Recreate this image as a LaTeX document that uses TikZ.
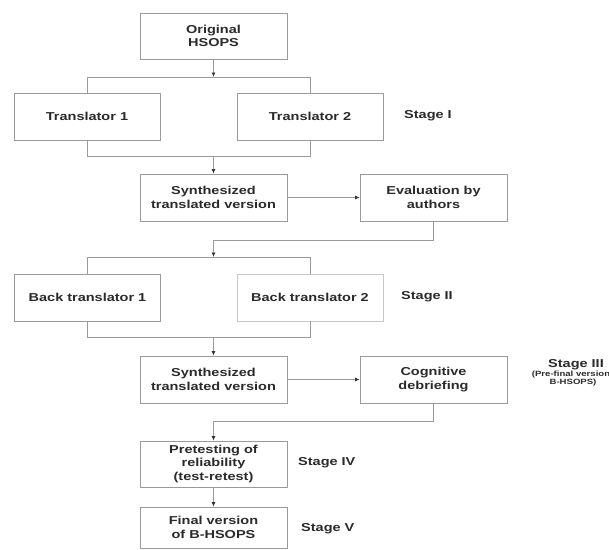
\documentclass[tikz,border=0pt]{standalone}
\usepackage{fontspec}
\setmainfont{Liberation Sans}[FakeStretch=1.26]
\usetikzlibrary{arrows.meta}
\definecolor{linegray}{HTML}{9A9A9A}
\definecolor{lightline}{HTML}{C8C8C8}
\definecolor{textdark}{HTML}{2A2A2A}
\definecolor{arrowdark}{HTML}{333333}
\newcommand{\bxfont}{\fontsize{11.5}{13.4}\selectfont\bfseries}
\newcommand{\smfont}{\fontsize{7.6}{8.6}\selectfont\bfseries}
\begin{document}
\begin{tikzpicture}[x=1pt,y=-1pt,
  box/.style={draw=linegray, line width=0.8pt, minimum width=147pt, minimum height=47pt,
    inner sep=0pt, align=center, font=\bxfont, text=textdark},
  conn/.style={draw=linegray, line width=0.8pt},
  arr/.style={conn, -{Latex[length=4.5pt,width=4pt,color=arrowdark]}},
  stagelbl/.style={font=\bxfont, text=textdark, anchor=west, inner sep=0pt},
  smalllbl/.style={font=\smfont, text=textdark, inner sep=0pt}]
\useasboundingbox (0,0) rectangle (609,549);

% boxes
\node[box, minimum height=46pt] (orig) at (213.5,36) {Original\\HSOPS};
\node[box, minimum width=146pt] (t1) at (87,116.5) {Translator 1};
\node[box, minimum width=146pt] (t2) at (310,116.5) {Translator 2};
\node[box] (s1) at (213.5,197.5) {Synthesized\\translated version};
\node[box] (ev) at (433.5,197.5) {Evaluation by\\authors};
\node[box, minimum width=146pt] (bt1) at (87.5,297.5) {Back translator 1};
\node[box, minimum width=146pt, draw=lightline] (bt2) at (310,297.5) {Back translator 2};
\node[box] (s2) at (213.5,379.5) {Synthesized\\translated version};
\node[box] (cg) at (433.5,379.5) {Cognitive\\debriefing};
\node[box, minimum height=46pt] (pt) at (213.5,464) {Pretesting of\\reliability\\(test-retest)};
\node[box, minimum height=41pt] (fv) at (213.5,527.5) {Final version\\of B-HSOPS};

% stage labels
\node[stagelbl] (st1) at (404,116) {Stage I};
\node[stagelbl] (st2) at (401,297) {Stage II};
\node[font=\bxfont, text=textdark, inner sep=0pt] (st3) at (576,365) {Stage III};
\node[smalllbl] (st3a) at (571,374.5) {(Pre-final version};
\node[smalllbl] (st3b) at (573,383) {B-HSOPS)};
\node[stagelbl] (st4) at (298,463) {Stage IV};
\node[stagelbl] (st5) at (301,529) {Stage V};

% coordinates for brackets
\coordinate (b1m) at (213.5,77);
\coordinate (b1l) at (87,77);
\coordinate (b1r) at (310,77);
\coordinate (b2l) at (87,156);
\coordinate (b2r) at (310,156);
\coordinate (b2m) at (213.5,156);
\coordinate (c1a) at (433.5,240);
\coordinate (c1b) at (213.5,240);
\coordinate (b3m) at (213.5,257);
\coordinate (b3l) at (87.5,257);
\coordinate (b3r) at (310,257);
\coordinate (b4l) at (87.5,337);
\coordinate (b4r) at (310,337);
\coordinate (b4m) at (213.5,337);
\coordinate (c2a) at (433.5,421);
\coordinate (c2b) at (213.5,421);

% connectors
\draw[arr] (orig.south) -- (b1m);
\draw[conn] (t1.north) -- (b1l) -- (b1r) -- (t2.north);
\draw[conn] (t1.south) -- (b2l) -- (b2r) -- (t2.south);
\draw[arr] (b2m) -- (s1.north);
\draw[arr] (s1.east) -- (ev.west);
\draw[arr] (ev.south) -- (c1a) -- (c1b) -- (b3m);
\draw[conn] (bt1.north) -- (b3l) -- (b3r) -- (bt2.north);
\draw[conn] (bt1.south) -- (b4l) -- (b4r) -- (bt2.south);
\draw[arr] (b4m) -- (s2.north);
\draw[arr] (s2.east) -- (cg.west);
\draw[arr] (cg.south) -- (c2a) -- (c2b) -- (pt.north);
\draw[arr] (pt.south) -- (fv.north);
\end{tikzpicture}
\end{document}
